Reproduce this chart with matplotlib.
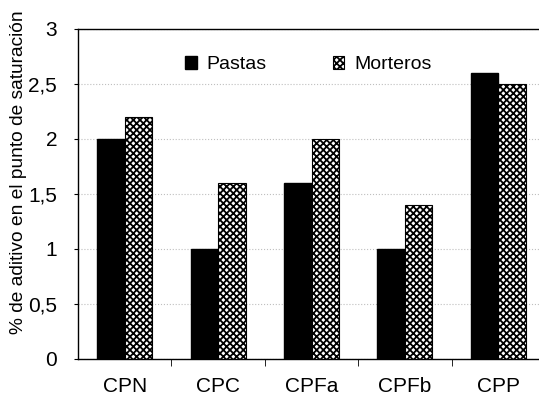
import numpy as np
import matplotlib
matplotlib.use('Agg')
import matplotlib.pyplot as plt

plt.rcParams['font.family'] = ['Liberation Sans', 'DejaVu Sans']
plt.rcParams['hatch.linewidth'] = 1.3

categories = ['CPN', 'CPC', 'CPFa', 'CPFb', 'CPP']
pastas = [2.0, 1.0, 1.6, 1.0, 2.6]
morteros = [2.2, 1.6, 2.0, 1.4, 2.5]
yticks = [0, 0.5, 1, 1.5, 2, 2.5, 3]
ytick_labels = ['0', '0,5', '1', '1,5', '2', '2,5', '3']

fig = plt.figure(figsize=(5.39, 4.0), dpi=100)
# chart is cut off on the right in the reference
ax = fig.add_axes([78/539, 41/400, 467/539, 330/400])

x = np.arange(len(categories))
w = 0.295
ax.bar(x - w/2, pastas, w, color='black', edgecolor='black', label='Pastas', zorder=3)
ax.bar(x + w/2, morteros, w, color='white', edgecolor='black', hatch='xxxxx',
       linewidth=0.8, label='Morteros', zorder=3)

ax.set_xlim(-0.5, len(categories) - 0.5)
ax.set_ylim(0, 3)
ax.set_yticks(yticks)
ax.set_yticklabels(ytick_labels, fontsize=15)
ax.set_xticks(x)
ax.set_xticklabels(categories, fontsize=15)
ax.tick_params(axis='x', length=0, pad=13)
ax.set_xticks(np.arange(len(categories) - 1) + 0.5, minor=True)
ax.tick_params(axis='x', which='minor', length=5, direction='out')
ax.tick_params(axis='y', length=3, pad=12)

ax.grid(True, axis='y', color='0.75', linestyle=':', linewidth=0.8, zorder=0)
ax.spines['right'].set_visible(False)
for s in ['left', 'top', 'bottom']:
    ax.spines[s].set_linewidth(1.0)

ax.set_ylabel('% de aditivo en el punto de saturación', fontsize=13.8)
ax.yaxis.set_label_coords(-0.11, 0.565)

ax.legend(loc='upper center', bbox_to_anchor=(0.493, 0.97), ncol=2, frameon=False,
          fontsize=14, handlelength=0.6, handleheight=0.6, handletextpad=0.5,
          columnspacing=3.4)

plt.savefig('out.png', dpi=100)
